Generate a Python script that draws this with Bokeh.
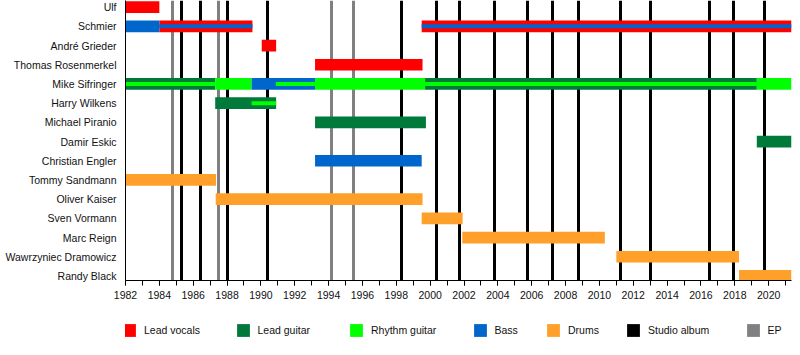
from bokeh.plotting import figure
from bokeh.layouts import column
from bokeh.models import Range1d, FixedTicker, SingleIntervalTicker, Legend, LegendItem
from bokeh.embed import file_html
from bokeh.resources import INLINE

# ---------------- data ----------------
members = ["Ulf", "Schmier", "André Grieder", "Thomas Rosenmerkel", "Mike Sifringer",
           "Harry Wilkens", "Michael Piranio", "Damir Eskic", "Christian Engler",
           "Tommy Sandmann", "Oliver Kaiser", "Sven Vormann", "Marc Reign",
           "Wawrzyniec Dramowicz", "Randy Black"]

roles = ["Lead vocals", "Lead guitar", "Rhythm guitar", "Bass", "Drums"]
role_colors = ["#FF0000", "#007A3A", "#00FF00", "#0066CC", "#FFA02A"]

START = 1982.0
END = 2021.35

# main (full-height) bars
bar_member = ["Ulf", "Schmier", "Schmier", "Schmier", "André Grieder", "Thomas Rosenmerkel",
              "Mike Sifringer", "Mike Sifringer", "Mike Sifringer", "Mike Sifringer",
              "Mike Sifringer", "Mike Sifringer", "Harry Wilkens", "Michael Piranio",
              "Damir Eskic", "Christian Engler", "Tommy Sandmann", "Oliver Kaiser",
              "Sven Vormann", "Marc Reign", "Wawrzyniec Dramowicz", "Randy Black"]
bar_role = ["Lead vocals", "Bass", "Lead vocals", "Lead vocals", "Lead vocals", "Lead vocals",
            "Lead guitar", "Rhythm guitar", "Bass", "Rhythm guitar", "Lead guitar", "Rhythm guitar",
            "Lead guitar", "Lead guitar", "Lead guitar", "Bass", "Drums", "Drums",
            "Drums", "Drums", "Drums", "Drums"]
bar_start = [1982.0, 1982.0, 1984.0, 1999.5, 1990.05, 1993.2,
             1982.0, 1987.3, 1989.45, 1993.2, 1999.7, 2019.3,
             1987.3, 1993.2, 2019.3, 1993.2, 1982.0, 1987.33,
             1999.5, 2001.9, 2011.0, 2018.25]
bar_end = [1984.0, 1984.0, 1989.5, END, 1990.9, 1999.55,
           1987.3, 1989.45, 1993.2, 1999.7, 2019.3, END,
           1990.9, 1999.75, END, 1999.5, 1987.35, 1999.55,
           2001.92, 2010.32, 2018.25, END]

# secondary (thin, centred) stripes
stripe_member = ["Schmier", "Schmier", "Mike Sifringer", "Mike Sifringer", "Mike Sifringer",
                 "Harry Wilkens"]
stripe_role = ["Bass", "Bass", "Rhythm guitar", "Rhythm guitar", "Rhythm guitar", "Rhythm guitar"]
stripe_start = [1984.0, 1999.5, 1982.0, 1990.88, 1999.7, 1989.45]
stripe_end = [1989.5, END, 1987.3, 1993.2, 2019.3, 1990.9]

studio_albums = [1985.3, 1986.45, 1988.0, 1990.4, 1998.3, 2000.35, 2001.72, 2003.8,
                 2005.75, 2007.2, 2008.78, 2011.23, 2013.0, 2016.5, 2017.93, 2019.77]
eps = [1984.8, 1987.52, 1994.17, 1995.45]

legend_labels = roles + ["Studio album", "EP"]
legend_colors = role_colors + ["#000000", "#808080"]

# ---------------- style ----------------
FONT = "Liberation Sans"
FSIZE = "10.5px"
TXT = "#111111"
LEFT = 125

p = figure(width=800, height=305, x_range=Range1d(START, END),
           y_range=Range1d(14.237, -0.346), output_backend="svg",
           toolbar_location=None, title=None,
           min_border_left=LEFT, min_border_right=9, min_border_top=0, min_border_bottom=25)
p.outline_line_color = None
p.grid.visible = False

# release lines (behind the bars)
p.vspan(x=eps, line_color="#808080", line_width=3)
p.vspan(x=studio_albums, line_color="black", line_width=3)

row = {m: i for i, m in enumerate(members)}

for role, col in zip(roles, role_colors):
    idx = [i for i, r in enumerate(bar_role) if r == role]
    p.hbar(y=[row[bar_member[i]] for i in idx],
           left=[bar_start[i] for i in idx],
           right=[bar_end[i] for i in idx],
           height=0.61, fill_color=col, line_color=None)

for role, col in zip(roles, role_colors):
    idx = [i for i, r in enumerate(stripe_role) if r == role]
    if not idx:
        continue
    p.hbar(y=[row[stripe_member[i]] for i in idx],
           left=[stripe_start[i] for i in idx],
           right=[stripe_end[i] for i in idx],
           height=0.21, fill_color=col, line_color=None)

# axes
ya = p.yaxis[0]
ya.ticker = FixedTicker(ticks=list(range(len(members))))
ya.major_label_overrides = {i: m for i, m in enumerate(members)}
ya.major_tick_line_color = None
ya.minor_tick_line_color = None
ya.major_tick_out = 0
ya.major_tick_in = 0
ya.major_label_standoff = 9
ya.axis_line_color = "black"
ya.major_label_text_font = FONT
ya.major_label_text_font_size = FSIZE
ya.major_label_text_color = TXT

xa = p.xaxis[0]
xa.ticker = SingleIntervalTicker(interval=2, num_minor_ticks=2)
xa.major_tick_out = 5
xa.major_tick_in = 0
xa.minor_tick_out = 5
xa.minor_tick_in = 0
xa.major_tick_line_color = "black"
xa.minor_tick_line_color = "black"
xa.axis_line_color = "black"
xa.major_label_standoff = 5
xa.major_label_text_font = FONT
xa.major_label_text_font_size = FSIZE
xa.major_label_text_color = TXT

# ---------------- legend strip ----------------
lf = figure(width=800, height=50, x_range=Range1d(0, 1), y_range=Range1d(0, 1),
            output_backend="svg", toolbar_location=None, title=None,
            x_axis_type=None, y_axis_type=None,
            min_border_left=LEFT, min_border_right=9, min_border_top=0, min_border_bottom=0)
lf.outline_line_color = None
lf.grid.visible = False

nan = float("nan")
# left edge of each key, in page pixels
legend_x = [121, 234.5, 348, 471.5, 545, 625, 744.5]
for lab, col, lx in zip(legend_labels, legend_colors, legend_x):
    key = lf.hbar(y=[nan], left=[nan], right=[nan], height=0.5, fill_color=col, line_color=None)
    lg = Legend(items=[LegendItem(label=lab, renderers=[key])],
                location=(lx - LEFT, 17.5), orientation="horizontal",
                glyph_width=16, glyph_height=16, label_height=16, label_width=10,
                label_standoff=7, padding=0, margin=0, spacing=0,
                border_line_color=None, background_fill_alpha=0,
                label_text_font=FONT, label_text_font_size=FSIZE,
                label_text_color=TXT)
    lf.add_layout(lg)

layout = column(p, lf, spacing=0)
open("out.html", "w").write(file_html(layout, INLINE))
